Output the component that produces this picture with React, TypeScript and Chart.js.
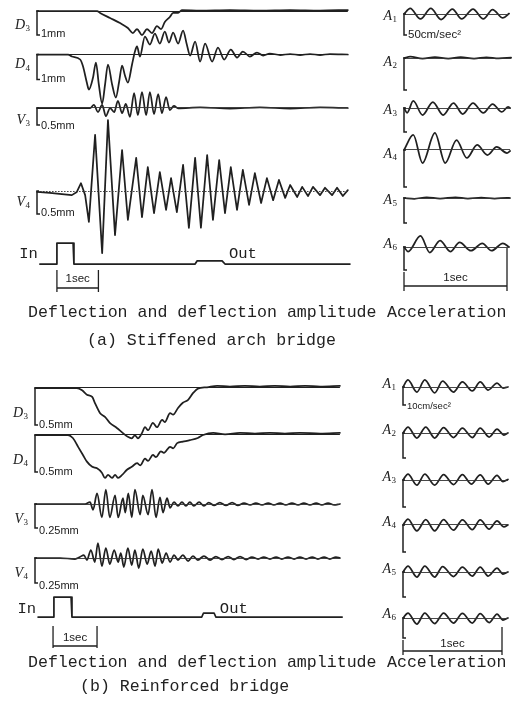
import React, { useEffect, useRef } from 'react';
import { Chart, registerables } from 'chart.js';
Chart.register(...registerables);

type P = [number, number];

// ===== (a) Stiffened arch bridge — deflection / amplitude [time s, mm]
const D3_A: P[] = [[0,0],[1.45,0],[1.52,-0.08],[1.76,-0.29],[2.0,-0.5],[2.19,-0.71],[2.31,-0.92],[2.41,-0.75],[2.53,-1.0],[2.65,-0.75],[2.77,-0.92],[2.89,-0.63],[2.99,-0.75],[3.08,-0.46],[3.2,-0.25],[3.28,-0.08],[3.4,-0.08],[3.49,0.04],[3.93,0.02],[4.65,0.04],[5.37,0.02],[6.1,0.04],[6.82,0.02],[7.49,0.04]];
const D4_A: P[] = [[0,0],[0.75,0],[0.84,-0.08],[1.04,-0.2],[1.11,-0.48],[1.2,-1.12],[1.25,-1.4],[1.35,-0.92],[1.42,-0.32],[1.49,-1.2],[1.57,-1.96],[1.64,-1.2],[1.71,-0.4],[1.81,-1.2],[1.9,-1.72],[1.98,-1.08],[2.05,-0.44],[2.12,-0.84],[2.19,-1.12],[2.29,-0.4],[2.36,0.12],[2.41,0.32],[2.48,-0.08],[2.6,0.72],[2.72,0.4],[2.84,0.84],[2.96,0.44],[3.08,0.92],[3.18,0.48],[3.28,0.88],[3.4,0.44],[3.52,0.96],[3.61,0.4],[3.69,-0.04],[3.81,0.52],[3.93,-0.28],[4.05,0.44],[4.22,-0.28],[4.36,0.28],[4.51,-0.2],[4.67,0.2],[4.82,-0.12],[4.96,0.12],[5.13,-0.08],[5.3,0.08],[5.45,-0.04],[5.61,0.04],[5.86,-0.02],[6.1,0.02],[6.34,-0.02],[6.58,0.02],[6.82,-0.02],[7.06,0.02],[7.49,0]];
const V3_A: P[] = [[0,0],[1.28,0],[1.37,0.09],[1.47,-0.12],[1.57,0.09],[1.66,-0.24],[1.76,0],[1.86,-0.12],[1.95,0.21],[2.05,-0.15],[2.14,0.12],[2.24,-0.26],[2.34,0.44],[2.43,-0.21],[2.53,0.47],[2.63,-0.21],[2.72,0.47],[2.82,-0.18],[2.92,0.41],[3.01,-0.15],[3.11,0.32],[3.2,-0.06],[3.3,0.06],[3.4,-0.01],[3.93,0.015],[4.65,-0.015],[5.37,0.015],[6.1,-0.015],[6.82,0.015],[7.49,0]];
const V4_A: P[] = [[0,-0.02],[0.31,-0.04],[0.6,-0.07],[0.84,-0.09],[0.96,-0.02],[1.06,0.17],[1.16,-0.09],[1.25,-0.67],[1.4,1.22],[1.57,-1.35],[1.71,1.54],[1.88,-0.96],[2.05,0.89],[2.19,-0.63],[2.39,0.72],[2.53,-0.57],[2.67,0.52],[2.82,-0.48],[2.96,0.41],[3.11,-0.41],[3.23,0.28],[3.37,-0.46],[3.52,0.57],[3.66,-0.8],[3.81,0.72],[3.95,-0.8],[4.1,0.78],[4.24,-0.63],[4.39,0.67],[4.53,-0.48],[4.67,0.52],[4.82,-0.41],[4.96,0.46],[5.11,-0.3],[5.25,0.39],[5.4,-0.26],[5.54,0.28],[5.69,-0.2],[5.83,0.24],[5.98,-0.15],[6.1,0.13],[6.27,-0.13],[6.39,0.09],[6.53,-0.11],[6.65,0.09],[6.82,-0.09],[6.94,0.07],[7.11,-0.09],[7.23,0.07],[7.37,-0.11],[7.49,0.02]];
const IO_A: P[] = [[0.07,0],[0.46,0],[0.48,1],[0.87,1],[0.89,0],[3.81,0],[3.86,0.15],[4.46,0.15],[4.53,0],[7.54,0]];

// (a) acceleration [time s, cm/s²]
const A1_A: P[] = [[0,0],[0.06,13.1],[0.16,-11.9],[0.26,13.1],[0.36,-13.1],[0.47,11.9],[0.56,-11.9],[0.67,11.9],[0.77,-11.9],[0.86,10.7],[0.96,-9.5],[1.02,1]];
const A2_A: P[] = [[0,0],[0.06,2],[0.18,-0.8],[0.3,1.5],[0.43,-1],[0.55,1.2],[0.68,-0.8],[0.8,1],[0.92,-0.6],[1.04,0.5]];
const A3_A: P[] = [[0,0],[0.03,-10],[0.09,14.6],[0.18,-14.6],[0.28,12.5],[0.38,-14.6],[0.48,10.4],[0.57,-12.5],[0.67,10.4],[0.77,-10.4],[0.86,8.3],[0.95,-8.3],[1.01,2.1],[1.03,0]];
const A4_A: P[] = [[0,0],[0.09,20.3],[0.18,-17.6],[0.3,23],[0.4,-17.6],[0.51,13.5],[0.61,-10.8],[0.71,6.8],[0.81,-6.8],[0.9,4.1],[1.0,-4.1],[1.03,-1.4]];
const A5_A: P[] = [[0,0],[0.1,-1.5],[0.22,1.5],[0.35,-1],[0.5,1.5],[0.62,-1],[0.75,1],[0.88,-1],[1.0,0.5],[1.03,0]];
const A6_A: P[] = [[0,0],[0.04,-10],[0.16,24],[0.25,-12],[0.35,14],[0.45,-10],[0.54,10],[0.65,-8],[0.76,8],[0.85,-8],[0.96,8],[1.02,0]];

// ===== (b) Reinforced bridge — deflection / amplitude [time s, mm]
const D3_B: P[] = [[0,0],[0.95,0],[1.07,-0.03],[1.18,-0.09],[1.3,-0.12],[1.36,-0.2],[1.48,-0.34],[1.59,-0.39],[1.7,-0.47],[1.86,-0.54],[2.0,-0.61],[2.11,-0.66],[2.2,-0.68],[2.27,-0.64],[2.34,-0.68],[2.43,-0.61],[2.5,-0.53],[2.57,-0.57],[2.68,-0.47],[2.77,-0.53],[2.89,-0.43],[2.95,-0.46],[3.07,-0.34],[3.14,-0.36],[3.25,-0.27],[3.36,-0.2],[3.48,-0.16],[3.59,-0.07],[3.7,-0.01],[3.91,0.01],[4.14,0.03],[4.43,0.02],[4.77,0.03],[5.11,0.02],[5.45,0.03],[5.8,0.02],[6.14,0.03],[6.48,0.02],[6.93,0.03]];
const D4_B: P[] = [[0,0],[0.75,0],[0.86,-0.04],[0.98,-0.16],[1.09,-0.27],[1.18,-0.36],[1.3,-0.43],[1.41,-0.45],[1.52,-0.51],[1.59,-0.58],[1.66,-0.54],[1.75,-0.58],[1.82,-0.54],[1.89,-0.58],[1.98,-0.54],[2.09,-0.47],[2.2,-0.43],[2.32,-0.38],[2.39,-0.41],[2.5,-0.32],[2.57,-0.35],[2.68,-0.27],[2.75,-0.3],[2.86,-0.22],[2.93,-0.24],[3.07,-0.16],[3.14,-0.18],[3.23,-0.11],[3.36,-0.09],[3.52,-0.07],[3.7,-0.04],[3.82,0],[4.05,0.03],[4.32,0.01],[4.66,0.03],[5.0,0.02],[5.34,0.03],[5.68,0.02],[6.02,0.03],[6.48,0.02],[6.93,0.03]];
const V3_B: P[] = [[0,0],[1.14,0],[1.25,0.02],[1.32,-0.06],[1.41,0.11],[1.52,-0.14],[1.61,0.15],[1.7,-0.14],[1.82,0.09],[1.89,-0.14],[2.0,0.06],[2.05,-0.09],[2.12,0.11],[2.2,-0.14],[2.27,0.15],[2.39,-0.11],[2.45,0.09],[2.57,-0.11],[2.66,0.15],[2.75,-0.14],[2.84,0.07],[2.91,-0.09],[3.0,0.06],[3.07,-0.04],[3.16,0.02],[3.25,-0.02],[3.34,0.02],[3.43,-0.02],[3.52,0.02],[3.61,-0.02],[3.73,0.02],[3.84,-0.02],[3.95,0.015],[4.07,-0.015],[4.2,0.015],[4.34,-0.015],[4.48,0.015],[4.61,-0.015],[4.75,0.01],[4.89,-0.01],[5.02,0.01],[5.16,-0.01],[5.3,0.01],[5.43,-0.01],[5.57,0.01],[5.7,-0.01],[5.84,0.01],[5.98,-0.01],[6.11,0.01],[6.25,-0.01],[6.39,0.01],[6.52,-0.01],[6.66,0.01],[6.8,-0.01],[6.93,0]];
const V4_B: P[] = [[0,0],[0.57,0],[0.91,-0.01],[1.02,0.01],[1.11,0.03],[1.18,-0.02],[1.27,0.08],[1.36,-0.04],[1.43,0.15],[1.52,-0.08],[1.61,0.1],[1.7,-0.06],[1.8,0.08],[1.89,-0.04],[1.95,0.05],[2.02,-0.09],[2.11,0.1],[2.2,-0.07],[2.27,0.08],[2.36,-0.1],[2.45,0.09],[2.55,-0.06],[2.64,0.07],[2.73,-0.08],[2.8,0.09],[2.89,-0.05],[2.98,0.05],[3.07,-0.04],[3.16,0.03],[3.25,-0.02],[3.36,0.03],[3.48,-0.03],[3.59,0.02],[3.7,-0.02],[3.84,0.02],[3.98,-0.02],[4.11,0.015],[4.25,-0.015],[4.39,0.015],[4.52,-0.015],[4.66,0.015],[4.8,-0.015],[4.93,0.01],[5.07,-0.01],[5.2,0.01],[5.34,-0.01],[5.48,0.01],[5.61,-0.01],[5.75,0.01],[5.89,-0.01],[6.02,0.01],[6.16,-0.01],[6.3,0.01],[6.43,-0.01],[6.57,0.01],[6.7,-0.01],[6.84,0.01],[6.93,0]];
const IO_B: P[] = [[0.07,0],[0.41,0],[0.43,1],[0.82,1],[0.84,0],[3.79,0],[3.83,0.2],[4.07,0.2],[4.11,0],[6.98,0]];

// (b) acceleration [time s, cm/s²]
const A1_B: P[] = [[0,0],[0.05,3.9],[0.14,-2.8],[0.22,3.9],[0.32,-3.3],[0.4,3.3],[0.51,-2.8],[0.6,2.8],[0.7,-2.2],[0.78,2.8],[0.86,-1.7],[0.95,2.2],[1.01,-0.6],[1.06,0]];
const A2_B: P[] = [[0,0],[0.05,2.4],[0.14,-2],[0.23,2.4],[0.32,-2],[0.41,2.2],[0.51,-1.8],[0.6,2],[0.7,-1.8],[0.78,2],[0.87,-1.6],[0.95,1.6],[1.02,-0.8],[1.06,0]];
const A3_B: P[] = [[0,0],[0.05,2.2],[0.14,-1.9],[0.22,2.2],[0.32,-1.9],[0.41,2],[0.51,-1.7],[0.6,2],[0.69,-1.5],[0.78,1.9],[0.86,-1.5],[0.95,1.7],[1.01,-0.6],[1.06,0.2]];
const A4_B: P[] = [[0,0],[0.05,2.2],[0.14,-2.2],[0.23,2],[0.32,-2.2],[0.41,2],[0.51,-1.9],[0.6,1.9],[0.7,-1.7],[0.78,1.9],[0.87,-1.5],[0.95,1.5],[1.02,-0.7],[1.06,0]];
const A5_B: P[] = [[0,0],[0.05,2.4],[0.14,-2],[0.22,2.4],[0.32,-2],[0.4,2.2],[0.51,-1.8],[0.6,2],[0.7,-1.6],[0.78,2],[0.86,-1.6],[0.95,1.6],[1.01,-0.8],[1.06,0]];
const A6_B: P[] = [[0,0],[0.05,2.5],[0.14,-3],[0.22,2.5],[0.32,-2.8],[0.41,2.5],[0.51,-2.5],[0.6,2.3],[0.7,-2.5],[0.78,2.2],[0.87,-2.3],[0.95,2],[1.01,-1],[1.06,0]];

// ===== layout (kept separate from the data)
type Frame = { ox: number; pxs: number; xMin: number; xMax: number };
type Spec = {
  data: P[]; frame: Frame; base: number; ppu: number;
  sharp?: boolean; ref?: 'solid' | 'thin' | 'dotted';
  bar?: number; barText?: string; barFont?: number; barTextDy?: number;
  name?: string; sub?: string; nameDy?: number;
  timeBar?: { t0: number; dy: number; up: number; down: number; rightUp?: number; textDy: number };
  pulse?: { outT: number; dy: number };
};

const FA_L: Frame = { ox: 37, pxs: 41.5, xMin: -0.1, xMax: 7.62 };
const FA_R: Frame = { ox: 404, pxs: 103, xMin: -0.03, xMax: 1.07 };
const FB_L: Frame = { ox: 35, pxs: 44, xMin: -0.1, xMax: 7.02 };
const FB_R: Frame = { ox: 403, pxs: 99, xMin: -0.03, xMax: 1.1 };

const SPECS: Spec[] = [
  { data: D3_A, frame: FA_L, base: 11, ppu: 24, ref: 'solid', bar: 1, barText: '1mm', barTextDy: -1, name: 'D', sub: '3', nameDy: 13 },
  { data: D4_A, frame: FA_L, base: 54.5, ppu: 25, ref: 'solid', bar: 1, barText: '1mm', barTextDy: -1, name: 'D', sub: '4', nameDy: 9 },
  { data: V3_A, frame: FA_L, base: 108, ppu: 34, ref: 'thin', bar: 0.5, barText: '0.5mm', barTextDy: 1, name: 'V', sub: '3', nameDy: 11 },
  { data: V4_A, frame: FA_L, base: 191, ppu: 46, sharp: true, ref: 'dotted', bar: 0.5, barText: '0.5mm', barTextDy: -1, name: 'V', sub: '4', nameDy: 10 },
  { data: IO_A, frame: FA_L, base: 264, ppu: 21, sharp: true, timeBar: { t0: 0.48, dy: 24, up: 18, down: 4, textDy: -9 }, pulse: { outT: 4.53, dy: -6 } },
  { data: A1_A, frame: FA_R, base: 14, ppu: 0.42, ref: 'thin', bar: 50, barText: '50cm/sec²', barFont: 11.5, name: 'A', sub: '1', nameDy: 1 },
  { data: A2_A, frame: FA_R, base: 58, ppu: 0.64, ref: 'thin', bar: 50, name: 'A', sub: '2', nameDy: 3 },
  { data: A3_A, frame: FA_R, base: 108, ppu: 0.48, ref: 'thin', bar: 50, name: 'A', sub: '3', nameDy: 1 },
  { data: A4_A, frame: FA_R, base: 150, ppu: 0.74, ref: 'thin', bar: 50, name: 'A', sub: '4', nameDy: 3 },
  { data: A5_A, frame: FA_R, base: 198, ppu: 0.5, ref: 'thin', bar: 50, name: 'A', sub: '5', nameDy: 1 },
  { data: A6_A, frame: FA_R, base: 247, ppu: 0.46, ref: 'thin', bar: 50, name: 'A', sub: '6', nameDy: -4, timeBar: { t0: 0, dy: 39, up: 14, down: 5, rightUp: 38, textDy: -8 } },
  { data: D3_B, frame: FB_L, base: 388, ppu: 74, ref: 'solid', bar: 0.5, barText: '0.5mm', name: 'D', sub: '3', nameDy: 24 },
  { data: D4_B, frame: FB_L, base: 435, ppu: 74, ref: 'solid', bar: 0.5, barText: '0.5mm', name: 'D', sub: '4', nameDy: 24 },
  { data: V3_B, frame: FB_L, base: 504, ppu: 96, ref: 'thin', bar: 0.25, barText: '0.25mm', barTextDy: 3, name: 'V', sub: '3', nameDy: 14 },
  { data: V4_B, frame: FB_L, base: 558, ppu: 100, ref: 'thin', bar: 0.25, barText: '0.25mm', barTextDy: 3, name: 'V', sub: '4', nameDy: 14 },
  { data: IO_B, frame: FB_L, base: 617, ppu: 20, sharp: true, timeBar: { t0: 0.41, dy: 29, up: 20, down: 2, textDy: -8 }, pulse: { outT: 4.11, dy: -4 } },
  { data: A1_B, frame: FB_R, base: 387, ppu: 1.8, ref: 'thin', bar: 10, barText: '10cm/sec²', barFont: 9.5, barTextDy: 1, name: 'A', sub: '1', nameDy: -4 },
  { data: A2_B, frame: FB_R, base: 433, ppu: 2.5, ref: 'thin', bar: 10, name: 'A', sub: '2', nameDy: -4 },
  { data: A3_B, frame: FB_R, base: 480, ppu: 2.7, ref: 'thin', bar: 10, name: 'A', sub: '3', nameDy: -4 },
  { data: A4_B, frame: FB_R, base: 525, ppu: 2.7, ref: 'thin', bar: 10, name: 'A', sub: '4', nameDy: -4 },
  { data: A5_B, frame: FB_R, base: 572, ppu: 2.5, ref: 'thin', bar: 10, name: 'A', sub: '5', nameDy: -4 },
  { data: A6_B, frame: FB_R, base: 618, ppu: 2.0, ref: 'thin', bar: 10, name: 'A', sub: '6', nameDy: -5, timeBar: { t0: 0, dy: 33, up: 11, down: 4, rightUp: 24, textDy: -7 } },
];

const CAPTIONS = [
  { text: 'Deflection and deflection amplitude', x: 28, baseline: 317 },
  { text: 'Acceleration', x: 387, baseline: 317 },
  { text: '(a) Stiffened arch bridge', x: 87, baseline: 345 },
  { text: 'Deflection and deflection amplitude', x: 28, baseline: 667 },
  { text: 'Acceleration', x: 387, baseline: 667 },
  { text: '(b) Reinforced bridge', x: 80, baseline: 691 },
];

const INK = '#202020';

function deco(s: Spec) {
  return {
    id: 'deco',
    afterDatasetsDraw(chart: any) {
      const ctx: CanvasRenderingContext2D = chart.ctx;
      const X = chart.scales.x, Y = chart.scales.y;
      const px = (t: number) => X.getPixelForValue(t);
      const x0 = px(0), y0 = Y.getPixelForValue(0);
      const yc = Math.round(y0 - 0.5) + 0.5;
      const t1 = s.data[0][0], t2 = s.data[s.data.length - 1][0];
      ctx.save();
      ctx.strokeStyle = INK; ctx.fillStyle = INK;
      if (s.ref) {
        ctx.lineWidth = s.ref === 'solid' ? 1.2 : 0.9;
        ctx.strokeStyle = s.ref === 'solid' ? INK : '#333';
        ctx.setLineDash(s.ref === 'dotted' ? [1.6, 1.4] : []);
        ctx.beginPath(); ctx.moveTo(px(t1), yc); ctx.lineTo(px(t2), yc); ctx.stroke();
        ctx.setLineDash([]);
        ctx.strokeStyle = INK;
      }
      if (s.bar !== undefined) {
        const yb = Y.getPixelForValue(-s.bar);
        ctx.lineWidth = 1.5;
        ctx.beginPath(); ctx.moveTo(x0 + 2, y0); ctx.lineTo(x0, y0); ctx.lineTo(x0, yb); ctx.lineTo(x0 + 3, yb); ctx.stroke();
        if (s.barText) {
          ctx.font = `${s.barFont ?? 11}px "Liberation Sans"`;
          ctx.textBaseline = 'middle'; ctx.textAlign = 'left';
          ctx.fillText(s.barText, x0 + 4, yb + (s.barTextDy ?? 0));
        }
        if (s.name) {
          const mainFont = 'italic 14px "Liberation Serif"';
          const subFont = '9px "Liberation Serif"';
          ctx.font = mainFont; const mw = ctx.measureText(s.name).width;
          ctx.font = subFont; const sw = ctx.measureText(s.sub ?? '').width;
          const right = x0 - 7;
          const left = right - mw - sw - 0.5;
          const cy = y0 + (s.nameDy ?? 0);
          ctx.textBaseline = 'alphabetic'; ctx.textAlign = 'left';
          ctx.font = mainFont; ctx.fillText(s.name, left, cy + 4.5);
          ctx.font = subFont; ctx.fillText(s.sub ?? '', left + mw + 0.5, cy + 7);
        }
      }
      if (s.timeBar) {
        const tb = s.timeBar;
        const xa = px(tb.t0), xb = px(tb.t0 + 1), yb = y0 + tb.dy;
        ctx.lineWidth = 1.3;
        ctx.beginPath();
        ctx.moveTo(xa, yb - tb.up); ctx.lineTo(xa, yb + tb.down);
        ctx.moveTo(xb, yb - (tb.rightUp ?? tb.up)); ctx.lineTo(xb, yb + tb.down);
        ctx.moveTo(xa, yb); ctx.lineTo(xb, yb);
        ctx.stroke();
        ctx.font = '11.5px "Liberation Sans"';
        ctx.textAlign = 'center'; ctx.textBaseline = 'middle';
        ctx.fillText('1sec', (xa + xb) / 2, yb + tb.textDy);
      }
      if (s.pulse) {
        ctx.font = '15.5px "Liberation Mono"';
        ctx.textBaseline = 'alphabetic';
        ctx.textAlign = 'right'; ctx.fillText('In', px(t1) - 2, y0 + s.pulse.dy);
        ctx.textAlign = 'left'; ctx.fillText('Out', px(s.pulse.outT) + 4, y0 + s.pulse.dy);
      }
      ctx.restore();
    },
  };
}

function Trace({ s }: { s: Spec }) {
  const ref = useRef<HTMLCanvasElement>(null);
  const vals = s.data.map((p) => p[1]);
  const m = 3 / s.ppu;
  const yMax = Math.max(0, ...vals) + m;
  const yMin = Math.min(0, ...vals, s.bar !== undefined ? -s.bar : 0) - m;
  const aL = s.frame.ox + s.frame.xMin * s.frame.pxs;
  const aR = s.frame.ox + s.frame.xMax * s.frame.pxs;
  const aT = s.base - yMax * s.ppu;
  const aB = s.base - yMin * s.ppu;
  const padB = s.timeBar ? 46 : 16;
  const cL = Math.max(0, Math.floor(aL - 44));
  const cT = Math.max(0, Math.floor(aT - 8));
  const cW = Math.ceil(aR + 6) - cL;
  const cH = Math.ceil(aB + padB) - cT;
  const padding = { left: aL - cL, right: cL + cW - aR, top: aT - cT, bottom: cT + cH - aB };

  useEffect(() => {
    const chart = new Chart(ref.current as HTMLCanvasElement, {
      type: 'line',
      data: {
        datasets: [{
          data: s.data.map(([x, y]) => ({ x, y })),
          borderColor: INK,
          borderWidth: 1.75,
          pointRadius: 0,
          fill: false,
          tension: s.sharp ? 0 : 0.4,
          cubicInterpolationMode: s.sharp ? 'default' : 'monotone',
          borderJoinStyle: 'round',
          borderCapStyle: 'round',
        } as any],
      },
      options: {
        animation: false,
        responsive: false,
        devicePixelRatio: 1,
        events: [],
        layout: { padding },
        plugins: { legend: { display: false }, tooltip: { enabled: false } },
        scales: {
          x: { type: 'linear', display: false, min: s.frame.xMin, max: s.frame.xMax },
          y: { type: 'linear', display: false, min: yMin, max: yMax },
        },
      } as any,
      plugins: [deco(s) as any],
    });
    return () => chart.destroy();
  }, []);

  return (
    <canvas
      ref={ref}
      width={cW}
      height={cH}
      style={{ position: 'absolute', left: cL, top: cT, width: cW, height: cH }}
    />
  );
}

export default function App() {
  return (
    <div style={{ position: 'absolute', left: 0, top: 0, width: 521, height: 713, background: '#fff', overflow: 'hidden' }}>
      {SPECS.map((s, i) => <Trace key={i} s={s} />)}
      {CAPTIONS.map((c, i) => (
        <div
          key={'c' + i}
          style={{
            position: 'absolute', left: c.x, top: c.baseline - 14.4, whiteSpace: 'pre',
            fontFamily: '"Liberation Mono", monospace', fontSize: 16.6, lineHeight: '20px', color: '#222',
          }}
        >
          {c.text}
        </div>
      ))}
    </div>
  );
}
